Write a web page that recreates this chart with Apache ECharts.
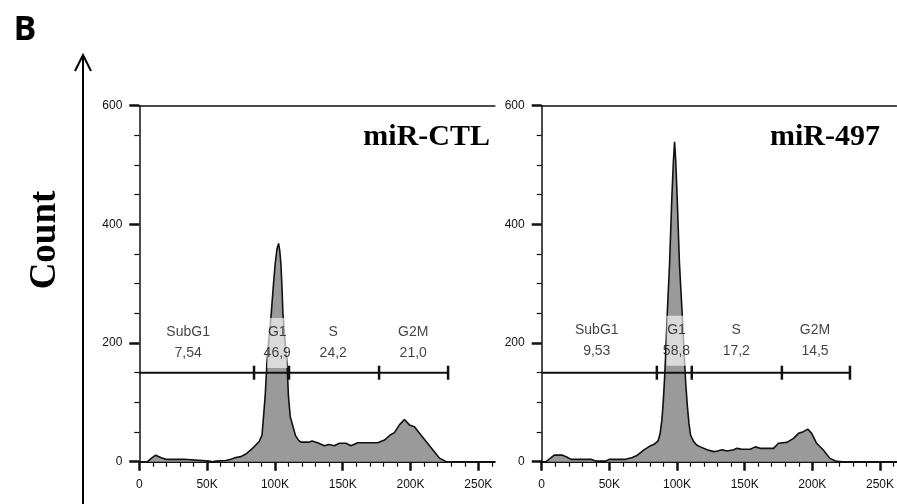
<!DOCTYPE html>
<html>
<head>
<meta charset="utf-8">
<script src="https://cdn.jsdelivr.net/npm/echarts@6/dist/echarts.min.js"></script>
<style>
html,body{margin:0;padding:0;background:#fff;}
#chart{width:897px;height:504px;}
</style>
</head>
<body>
<div id="chart"></div>
<script>
// ---- data ----
const xTickValues = [0, 50000, 100000, 150000, 200000, 250000];
const xTickLabels = ['0', '50K', '100K', '150K', '200K', '250K'];
const xMinorValues = [10000,20000,30000,40000,60000,70000,80000,90000,110000,120000,130000,140000,160000,170000,180000,190000,210000,220000,230000,240000,260000];
const yTickValues = [0, 200, 400, 600];
const yTickLabels = ['0', '200', '400', '600'];
const yMinorValues = [50, 100, 150, 250, 300, 350, 450, 500, 550];
const xMax = 262144;
const yMax = 600;

const panelTitles = ['miR-CTL', 'miR-497'];
const phaseNames = ['SubG1', 'G1', 'S', 'G2M'];
const ctlPercents = ['7,54', '46,9', '24,2', '21,0'];
const mir497Percents = ['9,53', '58,8', '17,2', '14,5'];
const ctlLabelX = [36000, 101700, 143000, 202000];
const mir497LabelX = [40700, 99600, 143800, 202000];
const ctlLabelY = 200;
const mir497LabelY = 204;

const gateLevel = 150;
const ctlGateBounds = [0, 84600, 110400, 176800, 227700];
const mir497GateBounds = [0, 85100, 110900, 177500, 227800];

const ctlHist = [
  [0,0],[6000,0],[9000,6],[12100,11],[15800,7],[19500,4],[33000,4],[34300,1],[51500,1],[54000,0],
  [56400,1],[63800,2],[67500,4],[71200,7],[74900,8.5],[78600,13],[83500,22.5],[88400,34],[90500,45],
  [91600,76],[92800,110],[94100,166],[95700,210],[97300,250],[98800,295],[100200,334],[101500,358],
  [102700,368],[103600,355],[104400,334],[105200,295],[105900,250],[107400,205],[108900,166],[110000,110],
  [111300,76],[113000,62],[115200,44],[117500,36],[119200,33],[122000,33],[125400,33],[127300,35],
  [131500,32],[136400,27],[140000,29],[143800,27],[147500,31],[152400,31],[156100,27],[161000,32],
  [175800,32],[180800,36.5],[185000,45],[188100,49],[191800,62],[195500,71],[199200,62],[202900,59],
  [206600,48],[211500,34],[216400,20],[221400,6],[226300,0],[262144,0]
];
const mir497Hist = [
  [0,0],[3200,0],[6000,5],[9300,11],[15400,11],[18500,8],[21600,4],[36300,4],[40000,1],[47400,1],
  [49800,4],[62100,4],[67000,7],[70700,11],[75600,20],[80500,27],[83500,30],[86000,35],[87500,47],
  [88800,70],[89800,100],[90800,140],[91600,180],[92800,250],[94500,334],[96200,446],[97300,505],
  [98200,539],[99100,505],[100100,446],[101800,334],[103800,250],[105300,180],[106500,130],[107600,95],
  [108800,65],[110000,45],[112000,35],[114500,28],[117300,25],[122200,20],[127100,17],[130000,18],
  [133300,20],[137000,18],[141900,20],[144300,22.5],[148000,21],[154100,21],[157800,25],[161500,22.5],
  [171300,22.5],[175000,31],[181200,32.6],[186100,39.4],[189800,47.8],[193400,50.6],[196600,55],
  [199500,47.8],[203200,31],[208100,19.7],[213000,5.6],[218000,0.5],[223000,0],[262144,0]
];

// ---- build ----
const chart = echarts.init(document.getElementById('chart'), null, {renderer: 'canvas'});
const tickFont = 'Liberation Sans';
const lineCol = '#111';

const grids = [
  {left: 139.3, top: 105.7, width: 355.5, height: 356},
  {left: 541.7, top: 105.7, width: 356, height: 356}
];

const xAxes = [], yAxes = [], series = [];
const panels = [
  {hist: ctlHist, pct: ctlPercents, lx: ctlLabelX, ly: ctlLabelY, gate: ctlGateBounds},
  {hist: mir497Hist, pct: mir497Percents, lx: mir497LabelX, ly: mir497LabelY, gate: mir497GateBounds}
];

panels.forEach((p, g) => {
  const xi = xAxes.length, yi = yAxes.length;
  xAxes.push({
    type: 'value', gridIndex: g, min: 0, max: xMax, position: 'bottom',
    axisLine: {show: true, onZero: false, lineStyle: {color: lineCol, width: 2}},
    axisTick: {show: true, customValues: xTickValues, length: 9, lineStyle: {color: lineCol, width: 2.5}},
    axisLabel: {show: true, customValues: xTickValues, margin: 17, fontFamily: tickFont, fontSize: 12, color: '#111',
      formatter: v => xTickLabels[xTickValues.indexOf(v)]},
    splitLine: {show: false}
  });
  xAxes.push({
    type: 'value', gridIndex: g, min: 0, max: xMax, position: 'bottom',
    axisLine: {show: false},
    axisTick: {show: true, customValues: xMinorValues, length: 5, lineStyle: {color: lineCol, width: 1.2}},
    axisLabel: {show: false}, splitLine: {show: false}
  });
  xAxes.push({
    type: 'value', gridIndex: g, min: 0, max: xMax, position: 'top',
    axisLine: {show: true, onZero: false, lineStyle: {color: lineCol, width: 1.5}},
    axisTick: {show: false}, axisLabel: {show: false}, splitLine: {show: false}
  });
  yAxes.push({
    type: 'value', gridIndex: g, min: 0, max: yMax, position: 'left',
    axisLine: {show: true, onZero: false, lineStyle: {color: lineCol, width: 1.5}},
    axisTick: {show: true, customValues: yTickValues, length: 10, lineStyle: {color: lineCol, width: 2.5}},
    axisLabel: {show: true, customValues: yTickValues, margin: 17, fontFamily: tickFont, fontSize: 12, color: '#111',
      formatter: v => yTickLabels[yTickValues.indexOf(v)]},
    splitLine: {show: false}
  });
  yAxes.push({
    type: 'value', gridIndex: g, min: 0, max: yMax, position: 'left',
    axisLine: {show: false},
    axisTick: {show: true, customValues: yMinorValues, length: 5, lineStyle: {color: lineCol, width: 1.2}},
    axisLabel: {show: false}, splitLine: {show: false}
  });

  series.push({
    type: 'line', xAxisIndex: xi, yAxisIndex: yi, data: p.hist, showSymbol: false, symbol: 'none',
    lineStyle: {color: lineCol, width: 1.6}, areaStyle: {color: '#9a9a9a', opacity: 1, origin: 'start'},
    z: 2, silent: true
  });
  series.push({
    type: 'line', xAxisIndex: xi, yAxisIndex: yi,
    data: p.gate.map((b, i) => ({value: [b, gateLevel], symbolSize: i === 0 ? 0 : [2.5, 14]})),
    symbol: 'rect', showSymbol: true, showAllSymbol: true,
    itemStyle: {color: lineCol}, lineStyle: {color: lineCol, width: 2}, z: 4, silent: true
  });
  series.push({
    type: 'scatter', xAxisIndex: xi, yAxisIndex: yi, symbolSize: 0, z: 5, silent: true,
    data: phaseNames.map((n, i) => ({value: [p.lx[i], p.ly], name: n, pct: p.pct[i]})),
    label: {
      show: true, position: 'inside', fontFamily: tickFont, fontSize: 14, color: '#111', lineHeight: 21,
      backgroundColor: 'rgba(255,255,255,0.8)', padding: [4, 0], width: 20, overflow: 'none', align: 'center',
      formatter: params => params.name + '\n' + params.data.pct
    }
  });
});

chart.setOption({
  animation: false,
  backgroundColor: '#fff',
  grid: grids,
  xAxis: xAxes,
  yAxis: yAxes,
  title: [
    {text: panelTitles[0], right: 402, top: 117, textStyle: {fontFamily: 'Liberation Serif', fontWeight: 'bold', fontSize: 30, color: '#000'}},
    {text: panelTitles[1], right: 12, top: 117, textStyle: {fontFamily: 'Liberation Serif', fontWeight: 'bold', fontSize: 30, color: '#000'}}
  ],
  graphic: [
    {type: 'text', x: 25, y: 30, style: {text: 'B', font: 'bold 34px "Open Sans"', fill: '#000', align: 'center', verticalAlign: 'middle'}},
    {type: 'line', shape: {x1: 83, y1: 55, x2: 83, y2: 504}, style: {stroke: '#000', lineWidth: 2}},
    {type: 'polyline', shape: {points: [[75, 71], [83, 55], [91, 71]]}, style: {stroke: '#000', lineWidth: 2, fill: null}},
    {type: 'text', x: 45, y: 240, rotation: Math.PI / 2,
      style: {text: 'Count', font: 'bold 37px "Liberation Serif"', fill: '#000', align: 'center', verticalAlign: 'middle'}}
  ],
  series: series
});
</script>
</body>
</html>
